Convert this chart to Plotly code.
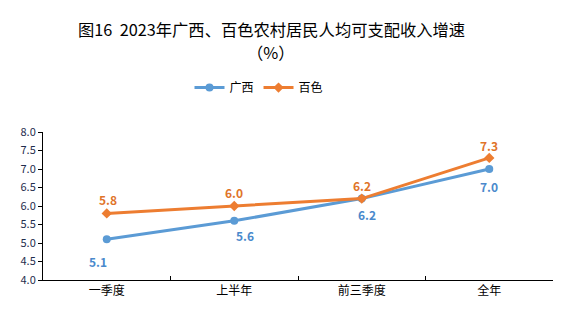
import plotly.graph_objects as go

categories = ["一季度", "上半年", "前三季度", "全年"]
guangxi = [5.1, 5.6, 6.2, 7.0]
baise = [5.8, 6.0, 6.2, 7.3]
y_ticks = [4.0, 4.5, 5.0, 5.5, 6.0, 6.5, 7.0, 7.5, 8.0]
title_line1 = "图16\u00a0\u00a02023年广西、百色农村居民人均可支配收入增速"
title_line2 = "（%）"

BLUE = "#5B9BD5"
ORANGE = "#ED7D31"
BLUE_TXT = "#4A89CC"
ORANGE_TXT = "#E0742A"
FONT = "Noto Sans CJK SC"

fig = go.Figure()
fig.add_trace(go.Scatter(x=categories, y=guangxi, name="广西", mode="lines+markers",
                         line=dict(color=BLUE, width=3),
                         marker=dict(symbol="circle", size=8, color=BLUE)))
fig.add_trace(go.Scatter(x=categories, y=baise, name="百色", mode="lines+markers",
                         line=dict(color=ORANGE, width=3),
                         marker=dict(symbol="diamond", size=8, color=ORANGE)))

# label offsets (pixels) per point
gx_shift = [-9, 11, 5, 0]
gy_shift = [-22, -15, -16, -17]
bx_shift = [1, 0, 0, 0]
by_shift = [14, 14, 13, 12]
for i, c in enumerate(categories):
    fig.add_annotation(x=c, y=guangxi[i], text=f"{guangxi[i]:.1f}", showarrow=False,
                       xshift=gx_shift[i], yshift=gy_shift[i],
                       font=dict(family=FONT, size=12, color=BLUE_TXT, weight="bold"))
    fig.add_annotation(x=c, y=baise[i], text=f"{baise[i]:.1f}", showarrow=False,
                       xshift=bx_shift[i], yshift=by_shift[i],
                       font=dict(family=FONT, size=12, color=ORANGE_TXT, weight="bold"))

title_x = (271 - 43) / 510
fig.add_annotation(xref="paper", yref="paper", x=title_x, y=(132 - 29) / 148 + 1,
                   yanchor="middle", xanchor="center", showarrow=False, text=title_line1,
                   borderpad=0, font=dict(family=FONT, size=16.3, color="#000000"))
fig.add_annotation(xref="paper", yref="paper", x=title_x, y=(132 - 52) / 148 + 1,
                   yanchor="middle", xanchor="center", showarrow=False, text=title_line2,
                   borderpad=0, font=dict(family=FONT, size=16.3, color="#000000"))

fig.update_layout(
    width=562, height=323,
    margin=dict(l=43, r=9, t=132, b=43),
    paper_bgcolor="white", plot_bgcolor="white",
    font=dict(family=FONT, color="#000000"),
    showlegend=True,
    legend=dict(orientation="h", x=(259 - 43) / 510, xanchor="center", y=1.30, yanchor="middle",
                font=dict(family=FONT, size=12, color="#000000"),
                itemwidth=30, tracegroupgap=0),
    xaxis=dict(type="category", range=[-0.5, 3.5], showline=True, linecolor="#000000",
               linewidth=1, ticks="inside", ticklen=4, tickcolor="#000000",
               tickson="boundaries", showgrid=False, zeroline=False,
               tickfont=dict(family=FONT, size=12, color="#000000")),
    yaxis=dict(range=[4.0, 8.0], tickvals=y_ticks, ticktext=[f"{v:.1f}" for v in y_ticks],
               showline=True, linecolor="#000000", linewidth=1, ticks="outside",
               ticklen=4, tickcolor="#000000", showgrid=False, zeroline=False,
               tickfont=dict(family=FONT, size=11, color="#1F2D4D")),
)

fig.write_html("out.html")
